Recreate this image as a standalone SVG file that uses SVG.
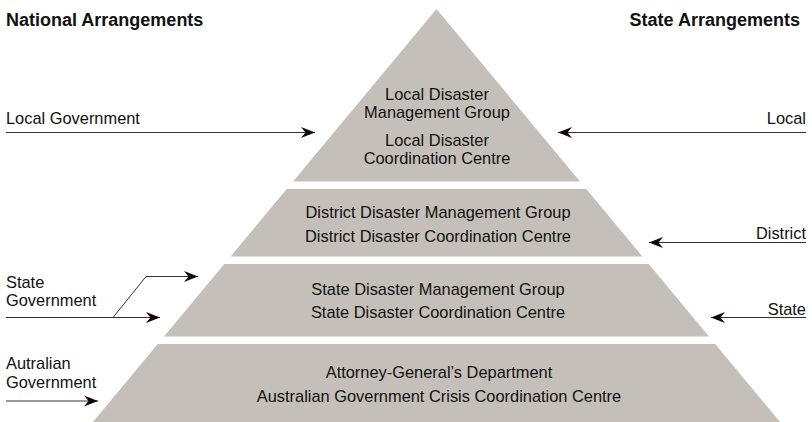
<svg xmlns="http://www.w3.org/2000/svg" width="812" height="422" viewBox="0 0 812 422">
  <style>
    .tier { fill: #c4c0b9; }
    .t { font-family: "Liberation Sans", Arial, sans-serif; font-size: 16.4px; fill: #111; }
    .c { text-anchor: middle; }
    .r { text-anchor: end; }
    .h { font-family: "Liberation Sans", Arial, sans-serif; font-size: 18px; font-weight: bold; fill: #111; }
    .link { fill: none; stroke: #333; stroke-width: 1; }
  </style>
  <defs>
    <marker id="barb" markerUnits="userSpaceOnUse" markerWidth="16" markerHeight="14" refX="14" refY="6" orient="auto">
      <path d="M14,6 L0,0.5 L4.5,6 L0,11.5 Z" fill="#140606"/>
    </marker>
  </defs>

  <rect width="812" height="422" fill="#ffffff"/>

  <!-- headings -->
  <text class="h" x="6" y="26">National Arrangements</text>
  <text class="h r" x="800" y="26">State Arrangements</text>

  <!-- pyramid tiers -->
  <g id="tier-local">
    <polygon class="tier" points="436.5,9 580,181.5 293,181.5"/>
    <text class="t c" x="437" y="100">Local Disaster</text>
    <text class="t c" x="437" y="118">Management Group</text>
    <text class="t c" x="437" y="146">Local Disaster</text>
    <text class="t c" x="437" y="164">Coordination Centre</text>
  </g>
  <g id="tier-district">
    <polygon class="tier" points="286.7,189 586.3,189 642.4,256.5 230.6,256.5"/>
    <text class="t c" x="438" y="218">District Disaster Management Group</text>
    <text class="t c" x="438" y="242">District Disaster Coordination Centre</text>
  </g>
  <g id="tier-state">
    <polygon class="tier" points="224.3,264 648.7,264 709,336.5 164,336.5"/>
    <text class="t c" x="438" y="295">State Disaster Management Group</text>
    <text class="t c" x="438" y="318">State Disaster Coordination Centre</text>
  </g>
  <g id="tier-national">
    <polygon class="tier" points="157.8,344 715.2,344 780.1,422 92.9,422"/>
    <text class="t c" x="439" y="378">Attorney-General’s Department</text>
    <text class="t c" x="439" y="402">Australian Government Crisis Coordination Centre</text>
  </g>

  <!-- side labels -->
  <g id="label-local-government">
    <text class="t" x="6" y="124">Local Government</text>
  </g>
  <g id="label-state-government">
    <text class="t" x="6" y="288">State</text>
    <text class="t" x="6" y="306">Government</text>
  </g>
  <g id="label-australian-government">
    <text class="t" x="6" y="369">Autralian</text>
    <text class="t" x="6" y="388">Government</text>
  </g>
  <g id="label-local">
    <text class="t r" x="806" y="124">Local</text>
  </g>
  <g id="label-district">
    <text class="t r" x="806" y="239">District</text>
  </g>
  <g id="label-state">
    <text class="t r" x="806" y="315">State</text>
  </g>

  <!-- connectors -->
  <g id="connectors">
    <path class="link" d="M6,132.5 H315" marker-end="url(#barb)"/>
    <path class="link" d="M806,132.5 H558" marker-end="url(#barb)"/>
    <path class="link" d="M806,242.5 H649" marker-end="url(#barb)"/>
    <path class="link" d="M806,317.5 H711" marker-end="url(#barb)"/>
    <path class="link" d="M6,317.5 H160" marker-end="url(#barb)"/>
    <path class="link" d="M113,317.5 L146,276.5 H198" marker-end="url(#barb)"/>
    <path class="link" d="M6,401 H98" marker-end="url(#barb)"/>
  </g>
</svg>
